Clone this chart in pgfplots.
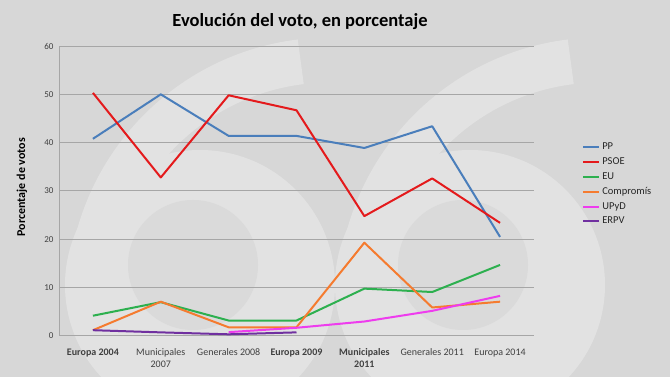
\documentclass[border=0pt]{standalone}
\usepackage{pgfplots}
\pgfplotsset{compat=1.18}
\usepackage{fontspec}
\setmainfont{Carlito}
\definecolor{bgc}{HTML}{D7D7D7}
\definecolor{wm}{HTML}{E2E2E2}
\definecolor{hole}{HTML}{DADADA}
\definecolor{gridc}{HTML}{A6A6A6}
\definecolor{tickc}{HTML}{404040}
\definecolor{cPP}{HTML}{4A7EBB}
\definecolor{cPSOE}{HTML}{E41A1C}
\definecolor{cEU}{HTML}{2DB04F}
\definecolor{cCOM}{HTML}{F57B2F}
\definecolor{cUPYD}{HTML}{EE3CEE}
\definecolor{cERPV}{HTML}{7030A0}
\begin{document}
\begin{tikzpicture}[x=1pt,y=1pt]
\path[use as bounding box] (0,0) rectangle (670,377);
\begin{scope}
\clip (0,0) rectangle (670,377);
\fill[bgc] (0,0) rectangle (670,377);
\foreach \dx in {0,270}{
  \fill[wm] (200+\dx,92) circle (135);
  \draw[wm,line width=45] (330+\dx,77) ++(97:240) arc (97:180:240);
  \fill[hole] (193+\dx,112) circle (65);
}
\end{scope}
\node[font=\bfseries\fontsize{18.5}{22}\selectfont, text=black] at (300,355) {Evolución del voto, en porcentaje};
\node[font=\bfseries\fontsize{12}{14}\selectfont, rotate=90] at (22,190) {Porcentaje de votos};
\begin{axis}[
  at={(59pt,41pt)}, anchor=south west,
  scale only axis, width=475pt, height=290pt,
  xmin=-0.5, xmax=6.5, ymin=0, ymax=60,
  ytick={0,10,...,60},
  xtick={0,...,6},
  xticklabels={\textbf{Europa 2004},Municipales\\2007,Generales 2008,\textbf{Europa 2009},\textbf{Municipales}\\\textbf{2011},Generales 2011,Europa 2014},
  xticklabel style={align=center, font=\fontsize{10}{12}\selectfont, text=tickc, yshift=-9pt},
  yticklabel style={font=\fontsize{9}{11}\selectfont, text=tickc, xshift=-2pt},
  /pgf/number format/assume math mode=true,
  axis x line*=bottom, axis y line*=left,
  axis line style={draw=gridc, line width=1pt, -},
  major tick style={draw=none},
  ymajorgrids, grid style={draw=gridc, line width=1pt},
  legend style={at={(1.095,0.68)}, anchor=north west, draw=none, fill=none,
    font=\fontsize{10.5}{12}\selectfont, row sep=2.5pt, text=black!85,
    legend cell align=left},
  legend image code/.code={\draw[#1, line width=2pt] (0pt,0pt) -- (16pt,0pt);},
  every axis plot/.append style={line width=2pt, line join=round},
  clip=false,
]
\addplot[cPP] coordinates {(0,40.8) (1,50.0) (2,41.4) (3,41.4) (4,38.9) (5,43.4) (6,20.5)};
\addlegendentry{PP}
\addplot[cPSOE] coordinates {(0,50.3) (1,32.8) (2,49.8) (3,46.7) (4,24.8) (5,32.6) (6,23.4)};
\addlegendentry{PSOE}
\addplot[cEU] coordinates {(0,4.2) (1,7.0) (2,3.2) (3,3.2) (4,9.8) (5,9.1) (6,14.7)};
\addlegendentry{EU}
\addplot[cCOM] coordinates {(0,1.2) (1,7.1) (2,1.8) (3,1.8) (4,19.3) (5,5.9) (6,7.1)};
\addlegendentry{Compromís}
\addplot[cUPYD] coordinates {(2,0.8) (3,1.7) (4,3.0) (5,5.2) (6,8.3)};
\addlegendentry{UPyD}
\addplot[cERPV] coordinates {(0,1.2) (1,0.75) (2,0.35) (3,0.75)};
\addlegendentry{ERPV}
\end{axis}
\end{tikzpicture}
\end{document}
